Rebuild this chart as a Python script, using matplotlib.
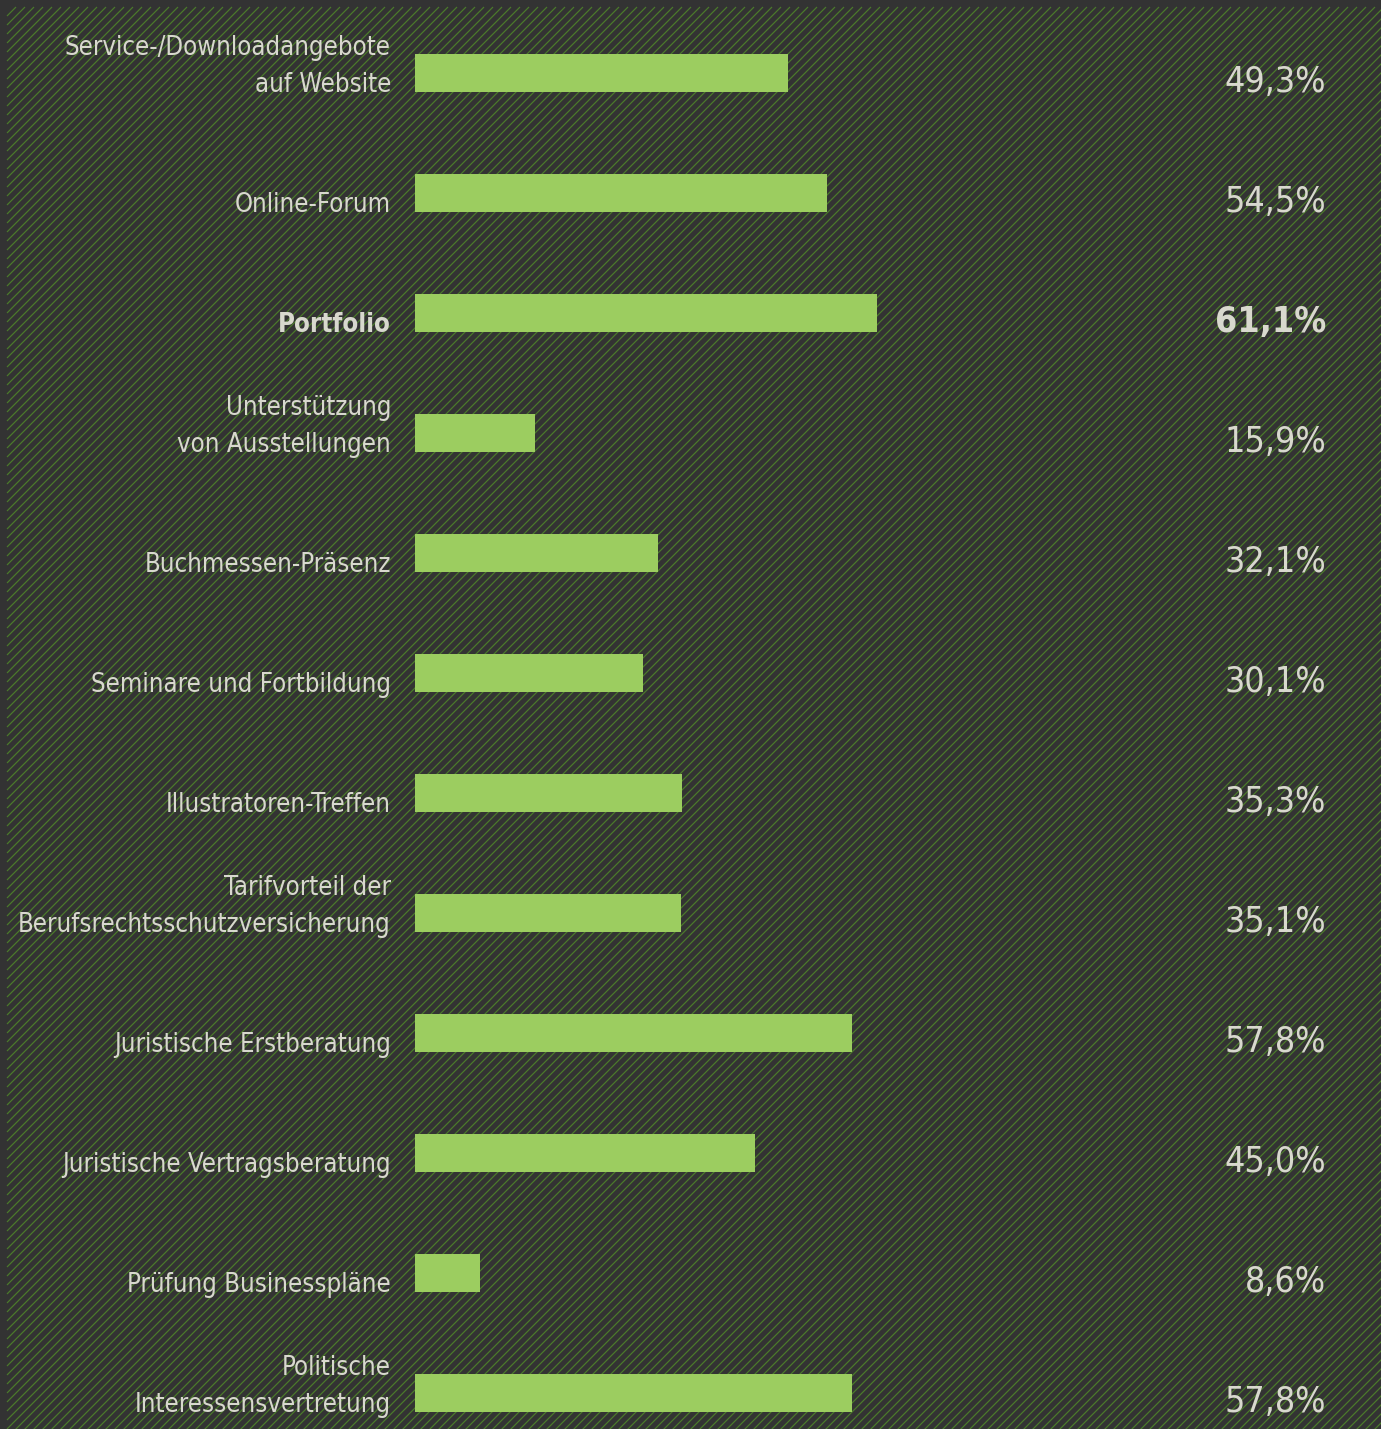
import numpy as np
import matplotlib
matplotlib.use("Agg")
import matplotlib.pyplot as plt
from matplotlib.collections import LineCollection
from matplotlib.font_manager import fontManager, FontProperties

labels = [
    "Service-/Downloadangebote\nauf Website",
    "Online-Forum",
    "Portfolio",
    "Unterstützung\nvon Ausstellungen",
    "Buchmessen-Präsenz",
    "Seminare und Fortbildung",
    "Illustratoren-Treffen",
    "Tarifvorteil der\nBerufsrechtsschutzversicherung",
    "Juristische Erstberatung",
    "Juristische Vertragsberatung",
    "Prüfung Businesspläne",
    "Politische\nInteressensvertretung",
]
values = [49.3, 54.5, 61.1, 15.9, 32.1, 30.1, 35.3, 35.1, 57.8, 45.0, 8.6, 57.8]
highlight = "Portfolio"


def pick_font(weight):
    # prefer a narrow face, otherwise plain DejaVu Sans
    narrow = ("condensed", "semi-condensed", "extra-condensed", "ultra-condensed")
    want = "bold" if weight == "bold" else "normal"
    for f in fontManager.ttflist:
        st = f.stretch if isinstance(f.stretch, str) else ""
        if (st in narrow or "Narrow" in f.name or "Condensed" in f.name) and \
                f.style == "normal":
            fw = f.weight if isinstance(f.weight, int) else \
                {"bold": 700, "normal": 400, "regular": 400}.get(f.weight, 400)
            if (want == "bold") == (fw >= 600):
                return dict(fname=f.fname)
    return dict(family="DejaVu Sans", weight=want)


BG = "#333333"
HATCH = "#4b7a2b"
BAR = "#9ccd60"
TXT = "#d8d8ce"

W, H = 1381, 1429
fig = plt.figure(figsize=(W / 100, H / 100), dpi=100, facecolor=BG)

# background with diagonal green stripes, leaving a plain rim top and left
bg = fig.add_axes([0, 0, 1, 1])
bg.set_xlim(0, W)
bg.set_ylim(H, 0)
bg.axis("off")
m = 7
segs = []
for c in np.arange(2 * m, W + H + 20, 9.0):
    x0 = max(m, c - H - 5)
    x1 = min(W + 5, c - m)
    if x1 > x0:
        segs.append([(x0, c - x0), (x1, c - x1)])
bg.add_collection(LineCollection(segs, colors=HATCH, linewidths=0.9,
                                 clip_on=False))

# bars
px_per = 7.566          # pixels per percent
row = 120.0
left = 415
ax = fig.add_axes([left / W, 0, (W - left) / W, 1])
ax.set_xlim(0, (W - left) / px_per)
ax.set_ylim((H - 73) / row, -73 / row)
ax.axis("off")
ax.patch.set_alpha(0)

y = np.arange(len(values))
ax.barh(y, values, height=38 / row, color=BAR, linewidth=0)

# fit font sizes so the longest label / value keep their widths
renderer = fig.canvas.get_renderer()


def width_px(s, size, weight="normal"):
    fp = FontProperties(size=size, **pick_font(weight))
    t = fig.text(0, 0, s, fontproperties=fp)
    w = t.get_window_extent(renderer).width
    t.remove()
    return w


lab_size = 24
w = width_px("Berufsrechtsschutzversicherung", lab_size)
if w > 372:
    lab_size *= 372 / w
val_size = 29
w = width_px("49,3%", val_size)
if w > 102:
    val_size *= 102 / w

lab_x = -24 / px_per
val_x = (1326 - left) / px_per
for i, (lab, v) in enumerate(zip(labels, values)):
    wt = "bold" if lab == highlight else "normal"
    fp_lab = FontProperties(size=lab_size, **pick_font(wt))
    fp_val = FontProperties(size=val_size, **pick_font(wt))
    base = i + 19 / row
    for k, line in enumerate(reversed(lab.split("\n"))):
        ax.text(lab_x, base - k * 37 / row, line, ha="right", va="baseline",
                fontproperties=fp_lab, color=TXT, clip_on=False)
    ax.text(val_x, base, f"{v:.1f}%".replace(".", ","), ha="right",
            va="baseline", fontproperties=fp_val, color=TXT, clip_on=False)

fig.savefig("out.png", dpi=100, facecolor=BG)
